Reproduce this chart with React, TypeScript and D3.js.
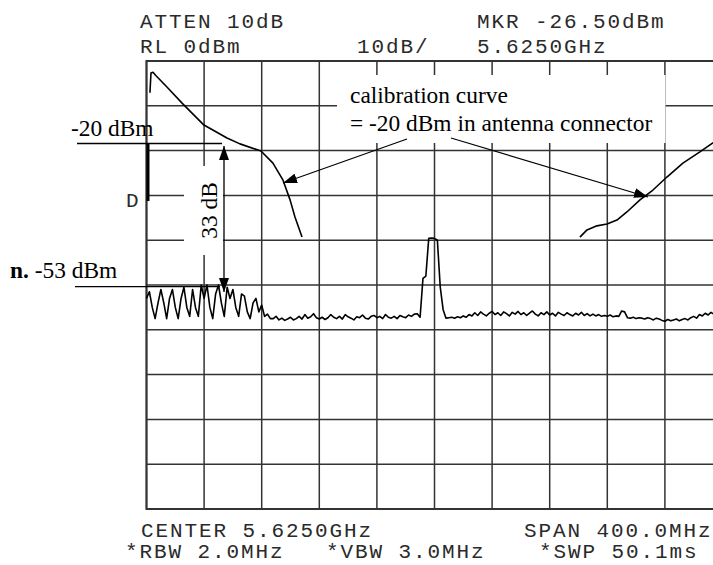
import React from 'react';
import * as d3 from 'd3';

// analyzer settings
const startMHz = 5425;
const stopMHz = 5825;
const refLevel = 0;
const bottomLevel = -100;
const freqDivs = d3.range(0, 11);
const levelDivs = d3.range(0, 11);

// measured trace, one value every 2 MHz from 5425 MHz
const traceStepMHz = 2;
const traceLevels = [
  -53, -51.5, -55, -57.5, -54, -51, -54, -57.5, -53, -51,
  -55, -57.5, -53, -50.5, -55, -57, -51, -55, -57, -50,
  -53, -50, -55, -57.5, -52, -50, -54, -57, -50.5, -53,
  -51, -55, -57, -52, -52.5, -56, -57.5, -54, -53, -56,
  -54.5, -57, -56.5, -57.5, -57.5, -57.0, -57.8, -57.4, -57.9, -57.6,
  -57.2, -57.8, -57.5, -57.0, -57.6, -56.6, -57.4, -57.1, -56.4, -57.3,
  -57.6, -57.2, -57.7, -57.3, -56.6, -57.2, -57.5, -57.0, -57.6, -56.6,
  -57.1, -57.4, -57.8, -57.1, -57.3, -56.7, -57.4, -57.6, -57.0, -56.8,
  -57.3, -57.0, -57.5, -56.6, -57.2, -57.4, -57.0, -57.5, -56.8, -57.1,
  -57.3, -56.7, -57.0, -56.5, -56.4, -57.2, -48.5, -48.0, -39.6, -39.5,
  -39.6, -40.0, -50.5, -55.5, -57.4, -57.3, -57.2, -57.4, -57.1, -57.3,
  -56.9, -57.2, -56.6, -56.9, -56.2, -56.8, -56.0, -56.5, -56.9, -56.3,
  -55.9, -56.6, -56.2, -56.8, -56.0, -56.4, -56.9, -56.1, -56.5, -55.9,
  -56.6, -56.2, -56.8, -56.3, -55.8, -56.5, -56.9, -56.2, -56.6, -56.0,
  -56.7, -56.3, -56.9, -56.1, -56.5, -56.8, -56.2, -56.6, -56.9, -56.3,
  -56.7, -56.1, -56.8, -56.4, -56.9, -56.5, -56.9, -56.6, -57.0, -56.8,
  -57.0, -56.7, -57.1, -56.9, -57.0, -55.8, -56.0, -57.3, -57.4, -57.2,
  -57.5, -57.3, -57.4, -57.6, -57.3, -57.5, -57.8, -57.4, -57.6, -57.9,
  -58.1, -57.7, -58.0, -57.8, -57.6, -58.0, -57.7, -57.5, -57.8, -57.3,
  -57.0, -57.4, -56.6, -56.9, -56.3, -56.7, -56.1, -56.5, -56.2, -56.6,
  -56.4,
];

// calibration curve (-20 dBm at antenna connector), two visible pieces
const calLeftMHz = [5427.4, 5428.1, 5429.5, 5431.6, 5439.2, 5449.7, 5464.9, 5480.9, 5489.9, 5504.5, 5512.8, 5519.8, 5524.7, 5528.1, 5533.0];
const calLeftDbm = [-7.1, -2.7, -2.5, -3.3, -5.8, -9.4, -14.3, -17.2, -18.5, -20.1, -22.8, -26.6, -31.0, -34.8, -39.3];
const calRightMHz = [5726.0, 5730.9, 5737.8, 5744.8, 5751.7, 5758.6, 5767.7, 5776.7, 5786.4, 5797.5, 5809.3, 5818.3, 5824.6];
const calRightDbm = [-39.3, -37.7, -36.8, -36.4, -35.5, -33.7, -31.0, -28.8, -25.9, -22.8, -20.3, -18.3, -17.2];

const headerLeft = ['ATTEN 10dB', 'RL 0dBm'];
const headerScale = '10dB/';
const headerRight = ['MKR -26.50dBm', '5.6250GHz'];
const footerRow1 = ['CENTER 5.6250GHz', 'SPAN 400.0MHz'];
const footerRow2 = ['*RBW 2.0MHz', '*VBW 3.0MHz', '*SWP 50.1ms'];

const mono = 'Liberation Mono, DejaVu Sans Mono, monospace';
const serif = 'Liberation Serif, Times New Roman, serif';

export default function App() {
  const W = 713, H = 565;
  const x = d3.scaleLinear().domain([startMHz, stopMHz]).range([146.5, 722.5]);
  const y = d3.scaleLinear().domain([refLevel, bottomLevel]).range([61, 509]);

  const line = d3.line<[number, number]>().x(d => x(d[0])).y(d => y(d[1]));
  const tracePts = traceLevels.map((v, i) => [startMHz + i * traceStepMHz, v] as [number, number]);
  const calLeft = calLeftMHz.map((f, i) => [f, calLeftDbm[i]] as [number, number]);
  const calRight = calRightMHz.map((f, i) => [f, calRightDbm[i]] as [number, number]);

  const fStep = (stopMHz - startMHz) / 10;
  const lStep = (refLevel - bottomLevel) / 10;
  const monoStyle = { fontFamily: mono, fontSize: 21, letterSpacing: 1.9, fill: '#2a2a2a' };
  const serifStyle = { fontFamily: serif, fontSize: 23.4, fill: '#000' };

  return (
    <svg width={W} height={H} viewBox={`0 0 ${W} ${H}`}
      style={{ position: 'absolute', left: 0, top: 0, background: '#fff' }}>
      <defs>
        <marker id="ah" viewBox="0 0 14 10" refX="14" refY="5" markerWidth="14" markerHeight="10"
          markerUnits="userSpaceOnUse" orient="auto-start-reverse">
          <path d="M0,0 L14,5 L0,10 Z" fill="#000" />
        </marker>
      </defs>

      {/* graticule */}
      <g stroke="#333" strokeWidth={1.5}>
        {freqDivs.map(k => (
          <line key={'v' + k} x1={x(startMHz + k * fStep)} x2={x(startMHz + k * fStep)} y1={y(refLevel)} y2={y(bottomLevel)} />
        ))}
        {levelDivs.map(k => (
          <line key={'h' + k} x1={x(startMHz)} x2={x(stopMHz)} y1={y(refLevel - k * lStep)} y2={y(refLevel - k * lStep)} />
        ))}
      </g>
      <rect x={x(startMHz)} y={y(refLevel)} width={x(stopMHz) - x(startMHz)} height={y(bottomLevel) - y(refLevel)}
        fill="none" stroke="#333" strokeWidth={2} />

      {/* traces */}
      <g fill="none" stroke="#000" strokeLinejoin="round">
        <path d={line(tracePts) || ''} strokeWidth={1.6} />
        <path d={line(calLeft) || ''} strokeWidth={1.6} />
        <path d={line(calRight) || ''} strokeWidth={1.6} />
      </g>
      {/* display line bar */}
      <line x1={148} x2={148} y1={143} y2={201} stroke="#000" strokeWidth={3} />

      {/* annotation boxes */}
      <rect x={337} y={75} width={328.5} height={68} fill="#fff" />
      <rect x={184} y={166} width={39} height={89} fill="#fff" />

      <text x={350} y={103} style={serifStyle}>calibration curve</text>
      <text x={350} y={131} style={serifStyle}>= -20 dBm in antenna connector</text>
      <line x1={407} y1={139} x2={283} y2={183} stroke="#000" strokeWidth={1.2} markerEnd="url(#ah)" />
      <line x1={451} y1={138} x2={648} y2={197} stroke="#000" strokeWidth={1.2} markerEnd="url(#ah)" />

      <text x={71} y={136} style={serifStyle}>-20 dBm</text>
      <line x1={77} x2={222} y1={143.5} y2={143.5} stroke="#000" strokeWidth={1.3} />
      <text x={10} y={278} style={serifStyle}>
        <tspan fontWeight="bold">n.</tspan> -53 dBm
      </text>
      <line x1={75} x2={220} y1={286.7} y2={286.7} stroke="#000" strokeWidth={1.3} />

      <line x1={224} x2={224} y1={146} y2={292} stroke="#000" strokeWidth={1.3}
        markerStart="url(#ah)" markerEnd="url(#ah)" />
      <text transform="translate(217,210.5) rotate(-90)" textAnchor="middle" style={serifStyle}>33 dB</text>

      <text x={126} y={207} style={{ ...monoStyle, letterSpacing: 0 }}>D</text>

      {/* analyzer annotations */}
      <text x={140} y={28} style={monoStyle}>{headerLeft[0]}</text>
      <text x={140} y={53} style={monoStyle}>{headerLeft[1]}</text>
      <text x={357} y={53} style={monoStyle}>{headerScale}</text>
      <text x={477} y={28} style={monoStyle}>{headerRight[0]}</text>
      <text x={477} y={53} style={monoStyle}>{headerRight[1]}</text>
      <text x={141} y={537} style={monoStyle}>{footerRow1[0]}</text>
      <text x={524} y={537} style={monoStyle}>{footerRow1[1]}</text>
      <text x={125} y={558} style={monoStyle}>{footerRow2[0]}</text>
      <text x={326} y={558} style={monoStyle}>{footerRow2[1]}</text>
      <text x={539} y={558} style={monoStyle}>{footerRow2[2]}</text>
    </svg>
  );
}
